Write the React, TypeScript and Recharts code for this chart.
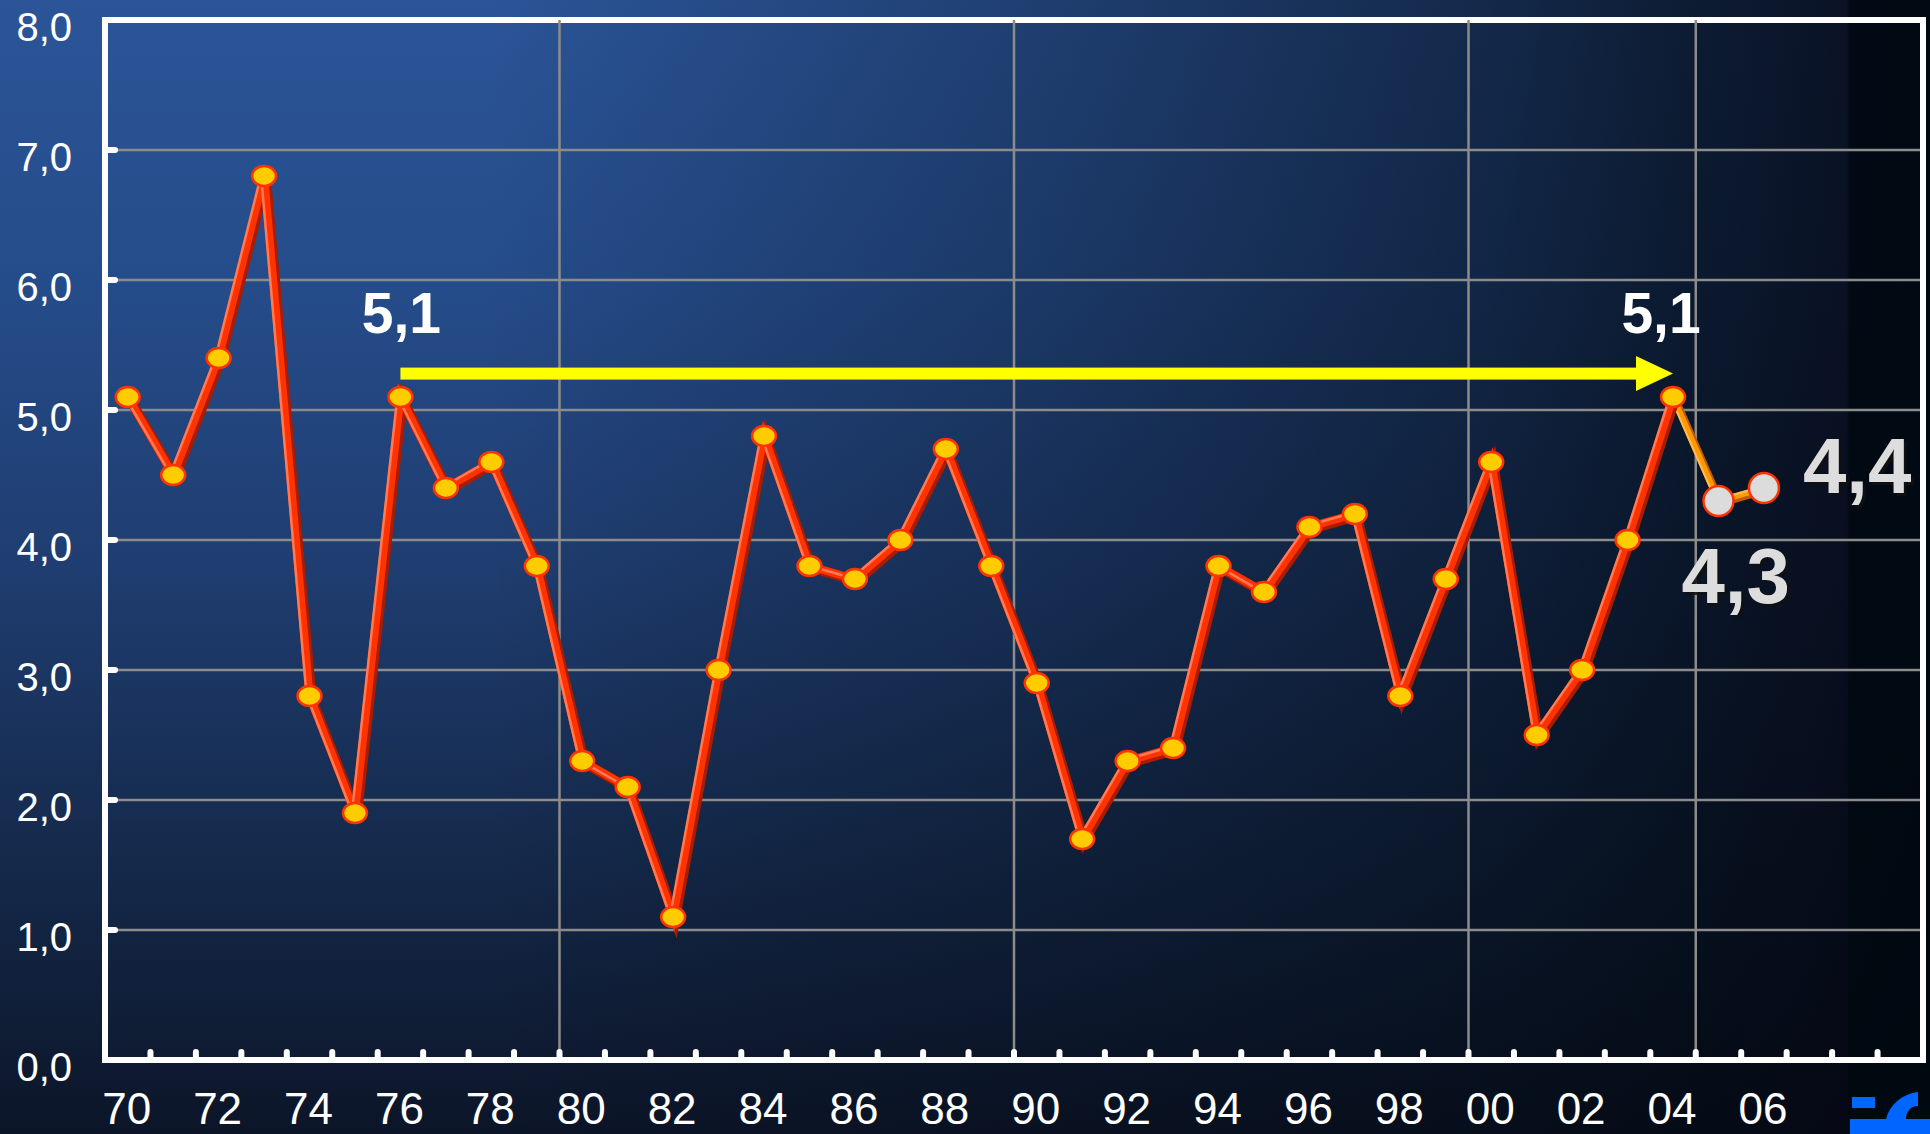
import React from 'react'
import { LineChart, Line, XAxis, YAxis, CartesianGrid, ReferenceLine, ReferenceArea } from 'recharts'

// years as two-digit offsets from 1900 (100 = 2000)
const years = [
  70, 71, 72, 73, 74, 75, 76, 77, 78, 79,
  80, 81, 82, 83, 84, 85, 86, 87, 88, 89,
  90, 91, 92, 93, 94, 95, 96, 97, 98, 99,
  100, 101, 102, 103, 104, 105, 106,
]

const actual = [
  5.1, 4.5, 5.4, 6.8, 2.8, 1.9, 5.1, 4.4, 4.6, 3.8,
  2.3, 2.1, 1.1, 3.0, 4.8, 3.8, 3.7, 4.0, 4.7, 3.8,
  2.9, 1.7, 2.3, 2.4, 3.8, 3.6, 4.1, 4.2, 2.8, 3.7,
  4.6, 2.5, 3.0, 4.0, 5.1, null, null,
]

const forecast = [
  null, null, null, null, null, null, null, null, null, null,
  null, null, null, null, null, null, null, null, null, null,
  null, null, null, null, null, null, null, null, null, null,
  null, null, null, null, 5.1, 4.3, 4.4,
]

const yTicks = [0, 1, 2, 3, 4, 5, 6, 7, 8]
const labelYears = [70, 72, 74, 76, 78, 80, 82, 84, 86, 88, 90, 92, 94, 96, 98, 100, 102, 104, 106]
const tickMarks = [
  70.5, 71.5, 72.5, 73.5, 74.5, 75.5, 76.5, 77.5, 78.5, 79.5,
  80.5, 81.5, 82.5, 83.5, 84.5, 85.5, 86.5, 87.5, 88.5, 89.5,
  90.5, 91.5, 92.5, 93.5, 94.5, 95.5, 96.5, 97.5, 98.5, 99.5,
  100.5, 101.5, 102.5, 103.5, 104.5, 105.5, 106.5, 107.5, 108.5,
]
const gridYears = [79.5, 89.5, 99.5, 104.5]

// yellow arrow: 1976 level carried to 2004
const arrowFrom = 76
const arrowTo = 104
const arrowLevel = 5.28

const chartData = years.map((year, i) => ({ year, actual: actual[i], forecast: forecast[i] }))
const xTicks = [...labelYears, ...tickMarks].sort((a, b) => a - b)

const FONT = '"Liberation Sans", Arial, sans-serif'
const fmtYear = (y: number) => String(y % 100).padStart(2, '0')
const fmtVal = (v: number) => v.toFixed(1).replace('.', ',')

const XTick = (props: any) => {
  const { x, y, payload } = props
  const v = payload.value
  if (Number.isInteger(v)) {
    return (
      <text x={x - 1} y={y + 64} textAnchor="middle" fill="#fff" fontSize={44} fontFamily={FONT}>
        {fmtYear(v)}
      </text>
    )
  }
  return <line x1={x} y1={y} x2={x} y2={y - 8} stroke="#fff" strokeWidth={6} strokeLinecap="round" />
}

const YTick = (props: any) => {
  const { x, y, payload } = props
  return (
    <g>
      {payload.value > 0 && (
        <line x1={x} y1={y} x2={x + 10} y2={y} stroke="#fff" strokeWidth={6} strokeLinecap="round" />
      )}
      <text x={x - 33} y={y + 21} textAnchor="end" fill="#fff" fontSize={40} fontFamily={FONT}>
        {fmtVal(payload.value)}
      </text>
    </g>
  )
}

const ActualDot = (props: any) => {
  const { cx, cy, index, payload, value } = props
  if (cx == null || cy == null || value == null) return <g key={`a-${index}`} />
  const yr = payload.year
  return (
    <g key={`a-${index}`}>
      <ellipse cx={cx} cy={cy} rx={12} ry={10} fill="#ffcc00" stroke="#ff3300" strokeWidth={2.5} />
      {(yr === 76 || yr === 104) && (
        <text
          x={cx + (yr === 76 ? 1 : -12)}
          y={cy - 64}
          textAnchor="middle"
          fill="#fff"
          fontSize={57}
          fontWeight="bold"
          fontFamily={FONT}
        >
          {fmtVal(value)}
        </text>
      )}
    </g>
  )
}

const ForecastDot = (props: any) => {
  const { cx, cy, index, payload, value } = props
  if (cx == null || cy == null || value == null || payload.year < 105) return <g key={`f-${index}`} />
  const dx = payload.year === 106 ? 39 : -37
  const dy = payload.year === 106 ? 5 : 102
  const label = fmtVal(value)
  return (
    <g key={`f-${index}`}>
      <circle cx={cx} cy={cy} r={15} fill="#dcdcdc" stroke="#ff3300" strokeWidth={2.5} />
      <text x={cx + dx + 3} y={cy + dy + 3} fill="#111" fillOpacity={0.85} fontSize={78} fontWeight="bold" fontFamily={FONT}>
        {label}
      </text>
      <text x={cx + dx} y={cy + dy} fill="#dddddd" fontSize={78} fontWeight="bold" fontFamily={FONT}>
        {label}
      </text>
    </g>
  )
}

const Arrow = (props: any) => {
  const { x1, y1, x2 } = props
  const head = 37
  return (
    <g>
      <rect x={x1} y={y1 - 6} width={x2 - head - x1} height={12} fill="#ffff00" />
      <polygon points={`${x2 - head},${y1 - 17.5} ${x2},${y1} ${x2 - head},${y1 + 17.5}`} fill="#ffff00" />
    </g>
  )
}

const Logo = () => (
  <svg width={80} height={42} style={{ position: 'absolute', right: 0, bottom: 0 }}>
    <rect x={2} y={5} width={23} height={11} fill="#0066ff" />
    <rect x={0} y={27} width={80} height={15} fill="#0066ff" />
    <path d="M36 27 C40 12 52 2 68 0 L68 14 C60 14 56 20 56 27 Z" fill="#0066ff" />
  </svg>
)

export default function App() {
  return (
    <div
      style={{
        position: 'relative',
        width: 1930,
        height: 1134,
        overflow: 'hidden',
        background:
          'linear-gradient(to right, rgba(2,8,16,0) 0%, rgba(2,8,16,0) 25%, rgba(2,8,16,0.27) 52%, rgba(2,8,16,0.45) 67%, rgba(2,8,16,0.57) 77%, rgba(2,8,16,0.75) 88%, rgba(4,6,16,0.84) 95.7%, rgba(0,8,16,0.97) 95.8%, rgba(0,8,16,0.98) 100%), linear-gradient(to bottom, #2b5598 0%, #254c8a 25%, #1f3d70 50%, #152a4c 75%, #0c1528 100%)',
      }}
    >
      <style>{`
        body { margin: 0; }
        .ln-shadow { transform: translate(2px, 2px); }
        .ln-light { transform: translate(-3px, -1px); }
      `}</style>
      <LineChart
        width={1930}
        height={1134}
        data={chartData}
        margin={{ top: 20, right: 7, left: 0, bottom: 0 }}
      >
        <CartesianGrid vertical={false} stroke="#8c8c8c" strokeWidth={2.5} />
        {gridYears.map((g) => (
          <ReferenceLine key={g} x={g} stroke="#8c8c8c" strokeWidth={2.5} />
        ))}
        <ReferenceArea x1={69.5} x2={109.5} y1={0} y2={8} fill="none" stroke="#fff" strokeWidth={6} />
        <XAxis
          dataKey="year"
          type="number"
          domain={[69.5, 109.5]}
          ticks={xTicks}
          interval={0}
          height={74}
          tickSize={0}
          tickMargin={0}
          tick={<XTick />}
          axisLine={{ stroke: '#fff', strokeWidth: 6 }}
        />
        <YAxis
          type="number"
          domain={[0, 8]}
          ticks={yTicks}
          width={105}
          tickSize={0}
          tickMargin={0}
          tick={<YTick />}
          axisLine={{ stroke: '#fff', strokeWidth: 6 }}
        />
        <ReferenceLine
          segment={[{ x: arrowFrom, y: arrowLevel }, { x: arrowTo, y: arrowLevel }]}
          shape={<Arrow />}
        />
        <Line className="ln-shadow" dataKey="forecast" stroke="#c25a00" strokeWidth={8} dot={false} activeDot={false} isAnimationActive={false} />
        <Line dataKey="forecast" stroke="#ff9900" strokeWidth={6} dot={false} activeDot={false} isAnimationActive={false} />
        <Line dataKey="forecast" className="ln-light" stroke="#ffbb55" strokeWidth={2} dot={false} activeDot={false} isAnimationActive={false} />
        <Line className="ln-shadow" dataKey="actual" stroke="#a81c00" strokeWidth={10} dot={false} activeDot={false} isAnimationActive={false} />
        <Line dataKey="actual" stroke="#ff3300" strokeWidth={8} dot={false} activeDot={false} isAnimationActive={false} />
        <Line className="ln-light" dataKey="actual" stroke="#ff7a55" strokeWidth={2.5} dot={<ActualDot />} activeDot={false} isAnimationActive={false} />
        <Line dataKey="forecast" stroke="none" dot={<ForecastDot />} activeDot={false} isAnimationActive={false} />
      </LineChart>
      <Logo />
    </div>
  )
}
